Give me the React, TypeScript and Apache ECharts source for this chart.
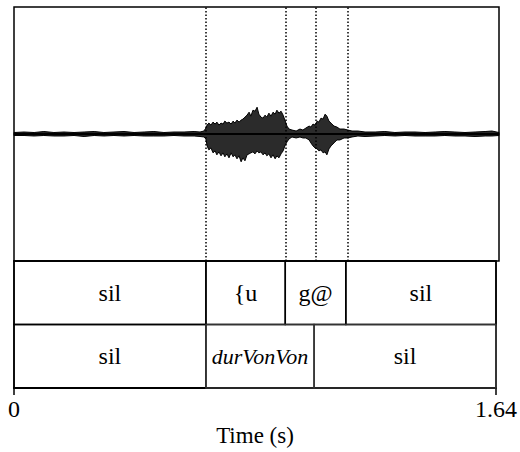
import React, { useEffect, useRef } from "react";
import * as echarts from "echarts";

// Waveform envelope (time in s, amplitude in 8-bit units, ±128)
const waveTimes = [0, 0.034, 0.068, 0.101, 0.135, 0.169, 0.203, 0.237, 0.271, 0.304, 0.338, 0.372, 0.406, 0.44, 0.473, 0.507, 0.541, 0.575, 0.609, 0.629, 0.642, 0.649, 0.653, 0.659, 0.666, 0.673, 0.68, 0.686, 0.693, 0.7, 0.707, 0.713, 0.72, 0.727, 0.734, 0.741, 0.747, 0.754, 0.761, 0.768, 0.774, 0.781, 0.788, 0.795, 0.801, 0.808, 0.815, 0.822, 0.828, 0.835, 0.842, 0.849, 0.855, 0.862, 0.869, 0.876, 0.883, 0.889, 0.896, 0.903, 0.91, 0.916, 0.923, 0.93, 0.94, 0.954, 0.967, 0.977, 0.987, 0.998, 1.004, 1.011, 1.018, 1.025, 1.031, 1.038, 1.045, 1.052, 1.058, 1.065, 1.072, 1.082, 1.092, 1.102, 1.116, 1.129, 1.143, 1.163, 1.187, 1.221, 1.254, 1.288, 1.322, 1.356, 1.39, 1.424, 1.457, 1.491, 1.525, 1.559, 1.593, 1.616, 1.64];
const waveUpper = [1.5, 2, 1.5, 2.5, 1.5, 2, 1.5, 2, 2.5, 1.5, 2, 2.5, 1.5, 2, 2.5, 1.5, 2, 2, 2.5, 2, 3, 6, 9, 11, 9, 12, 10, 12, 9, 11, 10, 13, 11, 12, 10, 13, 11, 14, 12, 14, 15, 17, 19, 22, 18, 24, 23, 27, 20, 17, 16, 19, 17, 21, 18, 22, 20, 24, 21, 23, 19, 14, 8, 5, 4, 3, 5, 4, 6, 8, 7, 10, 9, 13, 12, 16, 15, 20, 18, 13, 11, 8, 7, 5, 5, 4, 3, 3, 2, 2, 2.5, 1.5, 2, 2, 1.5, 2, 2.5, 2, 1.5, 2, 2.5, 3, 1.5];
const waveLower = [-1.5, -1.5, -2, -1.5, -2, -2, -1.5, -2.5, -1.5, -2, -1.5, -2, -1.5, -2, -2, -2, -1.5, -2, -2, -2.5, -3, -5, -12, -16, -14, -19, -17, -21, -18, -22, -19, -23, -20, -24, -19, -23, -21, -25, -22, -28, -24, -27, -21, -20, -19, -18, -20, -17, -19, -18, -21, -19, -22, -20, -24, -21, -25, -22, -24, -20, -17, -12, -8, -5, -3, -4, -3, -4, -4, -6, -9, -12, -14, -15, -17, -16, -19, -18, -21, -15, -12, -9, -6, -6, -4, -4, -3, -2, -2.5, -2, -1.5, -2, -1.5, -2, -2, -2, -1.5, -2, -2, -2.5, -2, -2, -1.5];

// TextGrid tiers
const phoneBounds = [0, 0.653, 0.923, 1.129, 1.64];
const phoneLabels = ["sil", "{u", "g@", "sil"];
const wordBounds = [0, 0.653, 1.021, 1.64];
const wordLabels = ["sil", "durVonVon", "sil"];
const wordItalic = [false, true, false];

const xMin = 0;
const xMax = 1.64;
const xTitle = "Time (s)";

const FONT = '"Liberation Serif", "Times New Roman", serif';

export default function App() {
  const ref = useRef<HTMLDivElement>(null);
  useEffect(() => {
    const chart = echarts.init(ref.current!, null, { renderer: "svg" });

    const tierData: any[] = [];
    const tierLabels: string[] = [];
    const tierItalic: boolean[] = [];
    for (let i = 0; i < phoneLabels.length; i++) {
      tierData.push([phoneBounds[i], phoneBounds[i + 1], 1]);
      tierLabels.push(phoneLabels[i]);
      tierItalic.push(false);
    }
    for (let i = 0; i < wordLabels.length; i++) {
      tierData.push([wordBounds[i], wordBounds[i + 1], 0]);
      tierLabels.push(wordLabels[i]);
      tierItalic.push(wordItalic[i]);
    }
    const bounds = Array.from(
      new Set([...phoneBounds.slice(1, -1), ...wordBounds.slice(1, -1)])
    ).sort((a, b) => a - b);

    const option: any = {
      animation: false,
      grid: [
        { left: 14, right: 21, top: 7, height: 254, show: true, borderColor: "#000", borderWidth: 1.5, backgroundColor: "transparent" },
        { left: 14, right: 21, top: 261, height: 127, show: true, borderColor: "#000", borderWidth: 1.5, backgroundColor: "transparent" },
      ],
      xAxis: [
        { type: "value", gridIndex: 0, min: xMin, max: xMax, show: false },
        {
          type: "value",
          gridIndex: 1,
          min: xMin,
          max: xMax,
          interval: xMax - xMin,
          axisLine: { show: true, lineStyle: { color: "#000", width: 2 } },
          axisTick: { show: true, length: 7, lineStyle: { color: "#000", width: 1.5 } },
          splitLine: { show: false },
          axisLabel: {
            show: true,
            color: "#000",
            fontFamily: FONT,
            fontSize: 24,
            margin: 9,
            showMinLabel: true,
            showMaxLabel: true,
            formatter: (v: number) => (v === 0 ? "0" : String(v)),
          },
          name: xTitle,
          nameLocation: "middle",
          nameGap: 36,
          nameTextStyle: { color: "#000", fontFamily: FONT, fontSize: 23, verticalAlign: "top" },
        },
      ],
      yAxis: [
        { type: "value", gridIndex: 0, min: -128, max: 128, show: false },
        { type: "value", gridIndex: 1, min: 0, max: 2, show: false },
      ],
      series: [
        {
          type: "custom",
          xAxisIndex: 0,
          yAxisIndex: 0,
          data: [[0]],
          silent: true,
          renderItem: (params: any, api: any) => {
            const pts: number[][] = [];
            for (let i = 0; i < waveTimes.length; i++) pts.push(api.coord([waveTimes[i], waveUpper[i]]));
            for (let i = waveTimes.length - 1; i >= 0; i--) pts.push(api.coord([waveTimes[i], waveLower[i]]));
            return {
              type: "polygon",
              shape: { points: pts },
              style: { fill: "#2b2b2b", stroke: "#000", lineWidth: 1 },
            };
          },
        },
        {
          type: "line",
          xAxisIndex: 0,
          yAxisIndex: 0,
          data: [[xMin, 0], [xMax, 0]],
          symbol: "none",
          silent: true,
          lineStyle: { color: "#000", width: 2 },
          markLine: {
            silent: true,
            symbol: "none",
            label: { show: false },
            lineStyle: { color: "#000", type: [1.5, 2], width: 1.5 },
            data: bounds.map((b) => ({ xAxis: b })),
          },
        },
        {
          type: "custom",
          xAxisIndex: 1,
          yAxisIndex: 1,
          data: tierData,
          silent: true,
          renderItem: (params: any, api: any) => {
            const s = api.value(0);
            const e = api.value(1);
            const t = api.value(2);
            const p0 = api.coord([s, t + 1]);
            const p1 = api.coord([e, t]);
            const idx = params.dataIndex;
            return {
              type: "group",
              children: [
                {
                  type: "rect",
                  shape: { x: p0[0], y: p0[1], width: p1[0] - p0[0], height: p1[1] - p0[1] },
                  style: { fill: "none", stroke: t === 0 && s > 0 ? "#333" : "#000", lineWidth: 1.5 },
                },
                {
                  type: "text",
                  x: (p0[0] + p1[0]) / 2,
                  y: (p0[1] + p1[1]) / 2,
                  style: {
                    text: tierLabels[idx],
                    fill: "#000",
                    font: `${tierItalic[idx] ? "italic " : ""}${tierItalic[idx] ? 22 : 24}px ${FONT}`,
                    align: "center",
                    verticalAlign: "middle",
                  },
                },
              ],
            };
          },
        },
      ],
    };
    chart.setOption(option);
    return () => chart.dispose();
  }, []);
  return <div ref={ref} style={{ width: 520, height: 452, position: "absolute", left: 0, top: 0, background: "#fff" }} />;
}
